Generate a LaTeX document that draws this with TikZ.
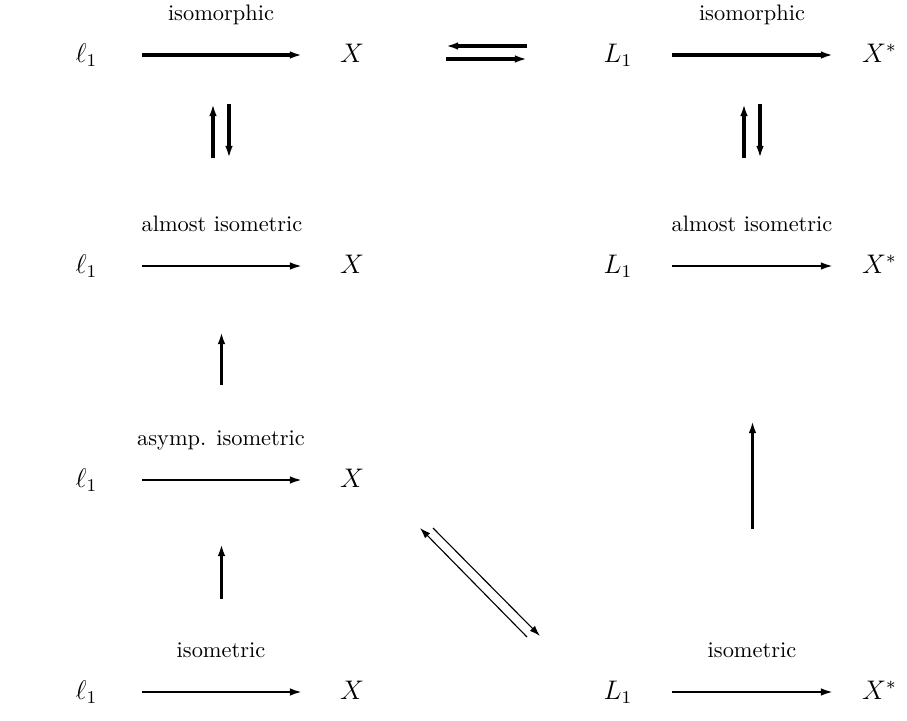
\documentclass[tikz,border=0pt]{standalone}
\usetikzlibrary{arrows.meta}
\begin{document}
\begin{tikzpicture}[x=0.4464pt,y=-0.4464pt,
  obj/.style={inner sep=0pt,anchor=base,font=\fontsize{12}{14}\selectfont},
  lab/.style={inner sep=0pt,anchor=base},
  tip/.style={-{Latex[length=5.4pt,width=3.4pt]}},
  thickarr/.style={tip,line width=1.35pt},
  midarr/.style={tip,line width=0.95pt},
  thinarr/.style={line width=0.5pt,-{Latex[length=4.8pt,width=3.2pt]}}]
\useasboundingbox (0,0) rectangle (907,721);
% row 1
\node[obj] (l1a) at (86.5,62) {$\ell_1$};
\node[obj] (Xa) at (352,62) {$X$};
\node[obj] (L1a) at (618,62) {$L_1$};
\node[obj] (Xsa) at (879.5,62) {$X^*$};
\node[lab] (la1) at (221,20) {isomorphic};
\node[lab] (lb1) at (752,20) {isomorphic};
% row 2
\node[obj] (l1b) at (86.5,273) {$\ell_1$};
\node[obj] (Xb) at (352,273) {$X$};
\node[obj] (L1b) at (618,273) {$L_1$};
\node[obj] (Xsb) at (879.5,273) {$X^*$};
\node[lab] (la2) at (222,231) {almost isometric};
\node[lab] (lb2) at (752,231) {almost isometric};
% row 3
\node[obj] (l1c) at (86.5,487) {$\ell_1$};
\node[obj] (Xc) at (352,487) {$X$};
\node[lab] (la3) at (221,445) {asymp. isometric};
% row 4
\node[obj] (l1d) at (86.5,699) {$\ell_1$};
\node[obj] (Xd) at (352,699) {$X$};
\node[obj] (L1d) at (618,699) {$L_1$};
\node[obj] (Xsd) at (879.5,699) {$X^*$};
\node[lab] (la4) at (221,657) {isometric};
\node[lab] (lb4) at (752,657) {isometric};
% horizontal arrow ends
\coordinate (ha1s) at (142,55);  \coordinate (ha1e) at (302,55);
\coordinate (hb1s) at (672,55);  \coordinate (hb1e) at (833,55);
\coordinate (ha2s) at (142,266); \coordinate (ha2e) at (302,266);
\coordinate (hb2s) at (672,266); \coordinate (hb2e) at (833,266);
\coordinate (ha3s) at (142,480); \coordinate (ha3e) at (302,480);
\coordinate (ha4s) at (142,692); \coordinate (ha4e) at (302,692);
\coordinate (hb4s) at (672,692); \coordinate (hb4e) at (833,692);
\draw[thickarr] (ha1s) -- (ha1e);
\draw[thickarr] (hb1s) -- (hb1e);
\draw[midarr] (ha2s) -- (ha2e);
\draw[midarr] (hb2s) -- (hb2e);
\draw[midarr] (ha3s) -- (ha3e);
\draw[midarr] (ha4s) -- (ha4e);
\draw[midarr] (hb4s) -- (hb4e);
% top middle pair
\coordinate (tmL) at (446,46); \coordinate (tmR) at (527,46);
\coordinate (bmL) at (446,59); \coordinate (bmR) at (527,59);
\draw[thickarr] (tmR) -- (tmL);
\draw[thickarr] (bmL) -- (bmR);
% vertical pairs between rows 1 and 2
\coordinate (vaut) at (213,104); \coordinate (vaub) at (213,158);
\coordinate (vadt) at (229,104); \coordinate (vadb) at (229,158);
\coordinate (vbut) at (744,104); \coordinate (vbub) at (744,158);
\coordinate (vbdt) at (760,104); \coordinate (vbdb) at (760,158);
\draw[thickarr] (vaub) -- (vaut);
\draw[thickarr] (vadt) -- (vadb);
\draw[thickarr] (vbub) -- (vbut);
\draw[thickarr] (vbdt) -- (vbdb);
% single verticals
\coordinate (s1b) at (221.5,385); \coordinate (s1t) at (221.5,332);
\coordinate (s2b) at (221.5,599); \coordinate (s2t) at (221.5,544);
\coordinate (s3b) at (752.5,529); \coordinate (s3t) at (752.5,421);
\draw[thickarr,line width=1.2pt] (s1b) -- (s1t);
\draw[thickarr,line width=1.2pt] (s2b) -- (s2t);
\draw[thickarr,line width=1.2pt] (s3b) -- (s3t);
% diagonal pair
\coordinate (d1a) at (527,637); \coordinate (d1b) at (420,528);
\coordinate (d2a) at (433,528); \coordinate (d2b) at (540,636);
\draw[thinarr] (d1a) -- (d1b);
\draw[thinarr] (d2a) -- (d2b);
\end{tikzpicture}
\end{document}
